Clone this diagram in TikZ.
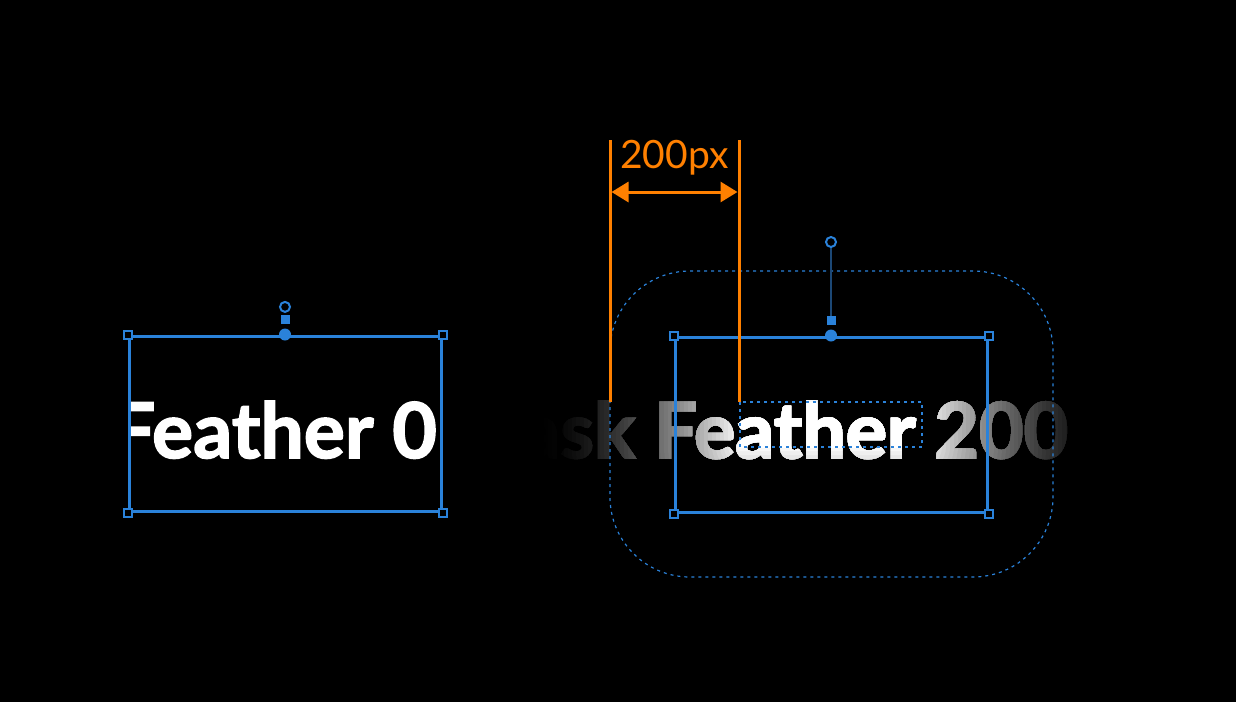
\documentclass[tikz,border=0pt]{standalone}
\usepackage{fontspec}
\newfontfamily\featherfont{Lato}[BoldFeatures={FakeBold=2}]
\usetikzlibrary{arrows.meta,positioning}
\definecolor{selblue}{RGB}{42,130,218}
\definecolor{pindark}{RGB}{28,72,118}
\definecolor{dimorange}{RGB}{255,128,0}
\tikzset{
  masktext/.style={anchor=base west,inner sep=0pt,font=\featherfont\bfseries\fontsize{77}{92}\selectfont},
  selbox/.style={draw=selblue,line width=3pt,inner sep=0pt,minimum width=312pt,minimum height=175pt},
  cornerbox/.style={draw=selblue,fill=black,line width=2pt,inner sep=0pt,minimum size=8pt},
  pinball/.style={circle,fill=selblue,inner sep=0pt,minimum size=12pt},
  pinsq/.style={fill=selblue,inner sep=0pt,minimum size=9pt},
  pinring/.style={circle,draw=selblue,fill=black,line width=2pt,inner sep=0pt,minimum size=10pt},
  featherline/.style={draw=selblue,line width=1.2pt,dash pattern=on 3pt off 4pt},
  dimline/.style={draw=dimorange,line width=3pt}
}
\begin{document}
\begin{tikzpicture}[x=1pt,y=-1pt]
\useasboundingbox (0,0) rectangle (1236,702);
\fill[black] (0,0) rectangle (1236,702);
\begin{scope}
\clip (129,336) rectangle (441,511);
\node[masktext,text=white] (txtL) at (-93,458) {Mask Feather 0};
\end{scope}
\node[selbox] (boxL) at (285,423.5) {};
\node[cornerbox] (Lnw) at (boxL.north west) {};
\node[cornerbox] (Lne) at (boxL.north east) {};
\node[cornerbox] (Lsw) at (boxL.south west) {};
\node[cornerbox] (Lse) at (boxL.south east) {};
\node[pinball] (Ldot) at (boxL.north) {};
\node[pinsq,above=4pt of Ldot] (Lsq) {};
\node[pinring,above=2pt of Lsq] (Lring) {};
\foreach \d in {196,192,...,0} {
\pgfmathsetmacro\g{100*(1-\d/200)^1.6}
\begin{scope}
\clip[rounded corners=\d pt] ({740-\d},{402-\d}) rectangle ({922+\d},{447+\d});
\node[masktext,text=white!\g!black] (txtR\d) at (449,458) {Mask Feather 200};
\end{scope}
}
\draw[featherline,rounded corners=80pt] (610,271) rectangle (1053,577);
\draw[featherline] (740,402) rectangle (922,447);
\node[selbox] (boxR) at (831,424.5) {};
\node[cornerbox] (Rnw) at (boxR.north west) {};
\node[cornerbox] (Rne) at (boxR.north east) {};
\node[cornerbox] (Rsw) at (boxR.south west) {};
\node[cornerbox] (Rse) at (boxR.south east) {};
\node[pinball] (Rdot) at (boxR.north) {};
\node[pinring] (Rring) at (831,242) {};
\node[pinsq,above=4pt of Rdot] (Rsq) {};
\draw[pindark,line width=2pt] (Rring) -- (Rsq);
\coordinate (dimLtop) at (610,140);
\coordinate (dimLbot) at (610,402);
\coordinate (dimRtop) at (739,140);
\coordinate (dimRbot) at (739,402);
\draw[dimline] (dimLtop) -- (dimLbot);
\draw[dimline] (dimRtop) -- (dimRbot);
\coordinate (arrL) at (611.5,192);
\coordinate (arrR) at (737.5,192);
\draw[dimline,{Triangle[length=17pt,width=20pt]}-{Triangle[length=17pt,width=20pt]}] (arrL) -- (arrR);
\node[text=dimorange,inner sep=0pt,anchor=base,font=\featherfont\fontsize{39}{47}\selectfont] (dimtxt) at (674.5,168) {200px};
\end{tikzpicture}
\end{document}
